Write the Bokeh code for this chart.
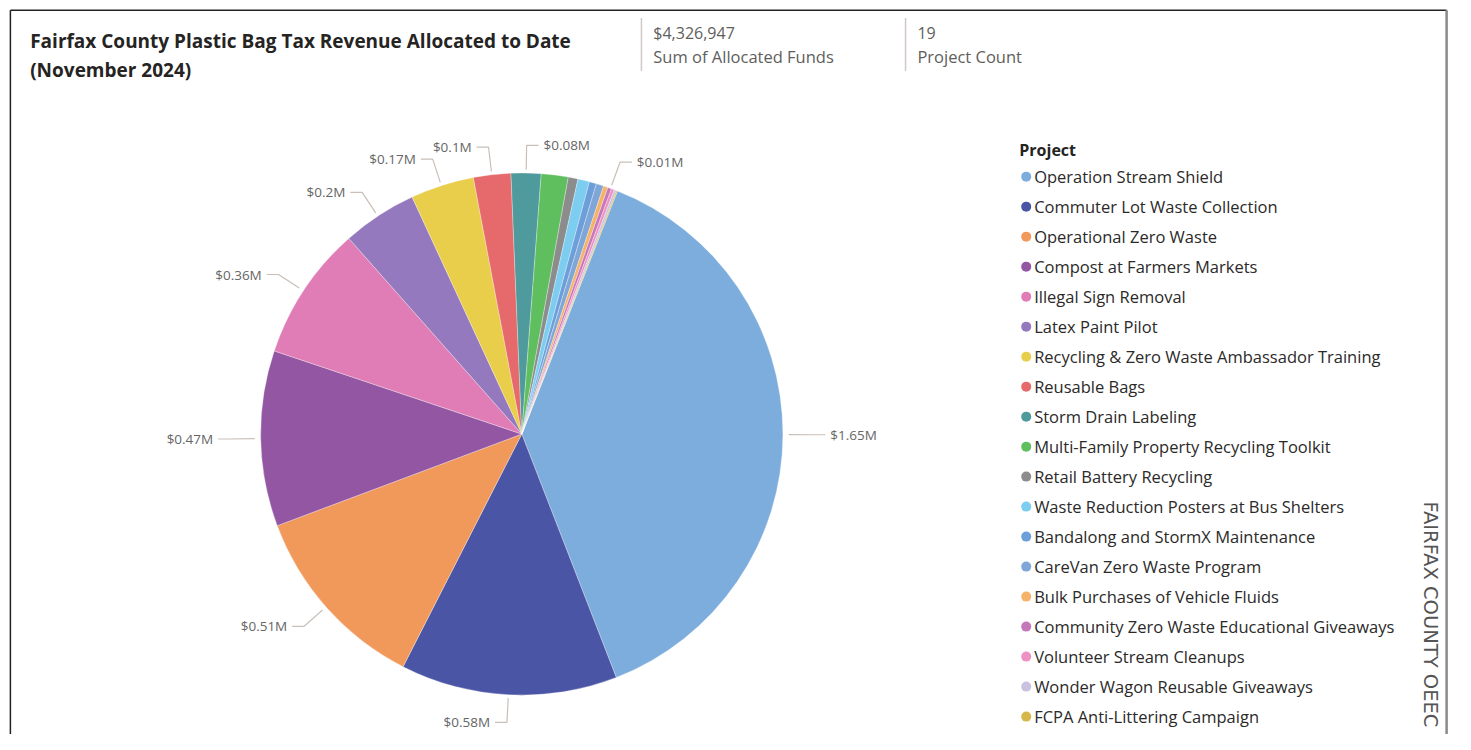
import math
from bokeh.plotting import figure
from bokeh.models import Range1d, ColumnDataSource
from bokeh.core.properties import value
from bokeh.embed import file_html
from bokeh.resources import INLINE

# ---------------- data ----------------
projects = [
    "Operation Stream Shield",
    "Commuter Lot Waste Collection",
    "Operational Zero Waste",
    "Compost at Farmers Markets",
    "Illegal Sign Removal",
    "Latex Paint Pilot",
    "Recycling & Zero Waste Ambassador Training",
    "Reusable Bags",
    "Storm Drain Labeling",
    "Multi-Family Property Recycling Toolkit",
    "Retail Battery Recycling",
    "Waste Reduction Posters at Bus Shelters",
    "Bandalong and StormX Maintenance",
    "CareVan Zero Waste Program",
    "Bulk Purchases of Vehicle Fluids",
    "Community Zero Waste Educational Giveaways",
    "Volunteer Stream Cleanups",
    "Wonder Wagon Reusable Giveaways",
    "FCPA Anti-Littering Campaign",
]
funds = [1650000, 580000, 510000, 470000, 360000, 200000, 170000, 100000, 80000,
         72000, 26000, 31000, 19000, 20000, 12000, 10000, 8000, 6000, 2947]
colors = ["#7DADDC", "#4B55A6", "#F1995B", "#9356A3", "#E17DB6", "#9479BE",
          "#E9CE4B", "#E66A6B", "#4E9A9C", "#5FBF5F", "#8C8C8C", "#7DCDF1",
          "#6C9FDA", "#7FA6D6", "#F5B36A", "#C477B9", "#EE92C4", "#C9C1DF", "#D5B74A"]
labeled = [True] * 9 + [False] * 6 + [True] + [False] * 3

title_lines = ["Fairfax County Plastic Bag Tax Revenue Allocated to Date", "(November 2024)"]
card_values = ["$4,326,947", "19"]
card_labels = ["Sum of Allocated Funds", "Project Count"]
legend_title = "Project"
side_text = "FAIRFAX COUNTY OEEC"

# ---------------- figure: data units = reference-image pixels ----------------
W, H = 1455, 734
def Y(py):
    return 750 - py

p = figure(width=W, height=H, x_range=Range1d(0, 1471), y_range=Range1d(0, 750),
           output_backend="svg", toolbar_location=None, min_border=0)
p.axis.visible = False
p.grid.visible = False
p.outline_line_color = None
p.background_fill_color = "white"

FONT = value("Open Sans")

# frame lines
p.segment(x0=[10, 10], y0=[Y(10), Y(10)], x1=[1462, 10], y1=[Y(10), Y(750)],
          line_color="#222222", line_width=1.5)
p.segment(x0=[1462], y0=[Y(10)], x1=[1462], y1=[Y(750)], line_color="#8a8a8a", line_width=2.5)

# title
p.text(x=[30, 30], y=[Y(41), Y(71)], text=title_lines, text_font=FONT, text_font_size="19px",
       text_font_style="bold", text_color="#252423", text_baseline="middle")

# cards
card_x = [648, 915]
p.segment(x0=card_x, y0=[Y(18)] * 2, x1=card_x, y1=[Y(72)] * 2, line_color="#cfcac6", line_width=1.5)
p.text(x=[c + 12 for c in card_x], y=[Y(33)] * 2, text=card_values, text_font=FONT,
       text_font_size="16px", text_color="#605E5C", text_baseline="middle")
p.text(x=[c + 12 for c in card_x], y=[Y(57)] * 2, text=card_labels, text_font=FONT,
       text_font_size="16.5px", text_color="#605E5C", text_baseline="middle")

# pie
cx, cy, r = 527, Y(443), 264
theta0 = 21.5
total = float(sum(funds))
starts, ends, mids = [], [], []
acc = 0.0
for v in funds:
    ts = theta0 + acc / total * 360.0
    te = ts + v / total * 360.0
    starts.append(math.radians(90 - ts))
    ends.append(math.radians(90 - te))
    mids.append((ts + te) / 2)
    acc += v
src = ColumnDataSource(dict(start=starts, end=ends, color=colors))
p.wedge(x=cx, y=cy, radius=r, start_angle="start", end_angle="end", direction="clock",
        fill_color="color", line_color="white", line_width=0.6, line_alpha=0.5, source=src)

# data labels with leader lines
def fmt(v):
    s = "%.2f" % (v / 1e6)
    s = s.rstrip("0").rstrip(".")
    return "$" + s + "M"

lx, ly, tx, ty, tt, ta = [], [], [], [], [], []
for v, m, show in zip(funds, mids, labeled):
    if not show:
        continue
    a = math.radians(m)
    dx, dy = math.sin(a), math.cos(a)
    x1, y1 = cx + (r + 6) * dx, cy + (r + 6) * dy
    x2, y2 = cx + (r + 31) * dx, cy + (r + 31) * dy
    side = 1 if dx >= 0 else -1
    x3 = x2 + side * 12
    lx.append([x1, x2, x3])
    ly.append([y1, y2, y2])
    tx.append(x3 + side * 5)
    ty.append(y2)
    tt.append(fmt(v))
    ta.append("left" if side > 0 else "right")
p.multi_line(xs=lx, ys=ly, line_color="#c9bfb8", line_width=1.2)
p.text(x=tx, y=ty, text=tt, text_align=ta, text_baseline="middle", text_font=FONT,
       text_font_size="13.5px", text_color="#666666")

# legend
p.text(x=[1030], y=[Y(153)], text=[legend_title], text_font=FONT, text_font_size="16px",
       text_font_style="bold", text_color="#252423", text_baseline="middle")
ys = [Y(180 + i * 30.65) for i in range(len(projects))]
p.scatter(x=[1037] * len(projects), y=ys, size=10, fill_color=colors, line_color=None)
p.text(x=[1045] * len(projects), y=ys, text=projects, text_font=FONT, text_font_size="16.5px",
       text_color="#2b2a29", text_baseline="middle")

# side caption
p.text(x=[1446], y=[Y(512)], text=[side_text], angle=-math.pi / 2, text_font=value("DejaVu Sans"),
       text_font_size="19.5px", text_color="#555555", text_baseline="middle", text_align="left")

open("out.html", "w").write(file_html(p, INLINE))
